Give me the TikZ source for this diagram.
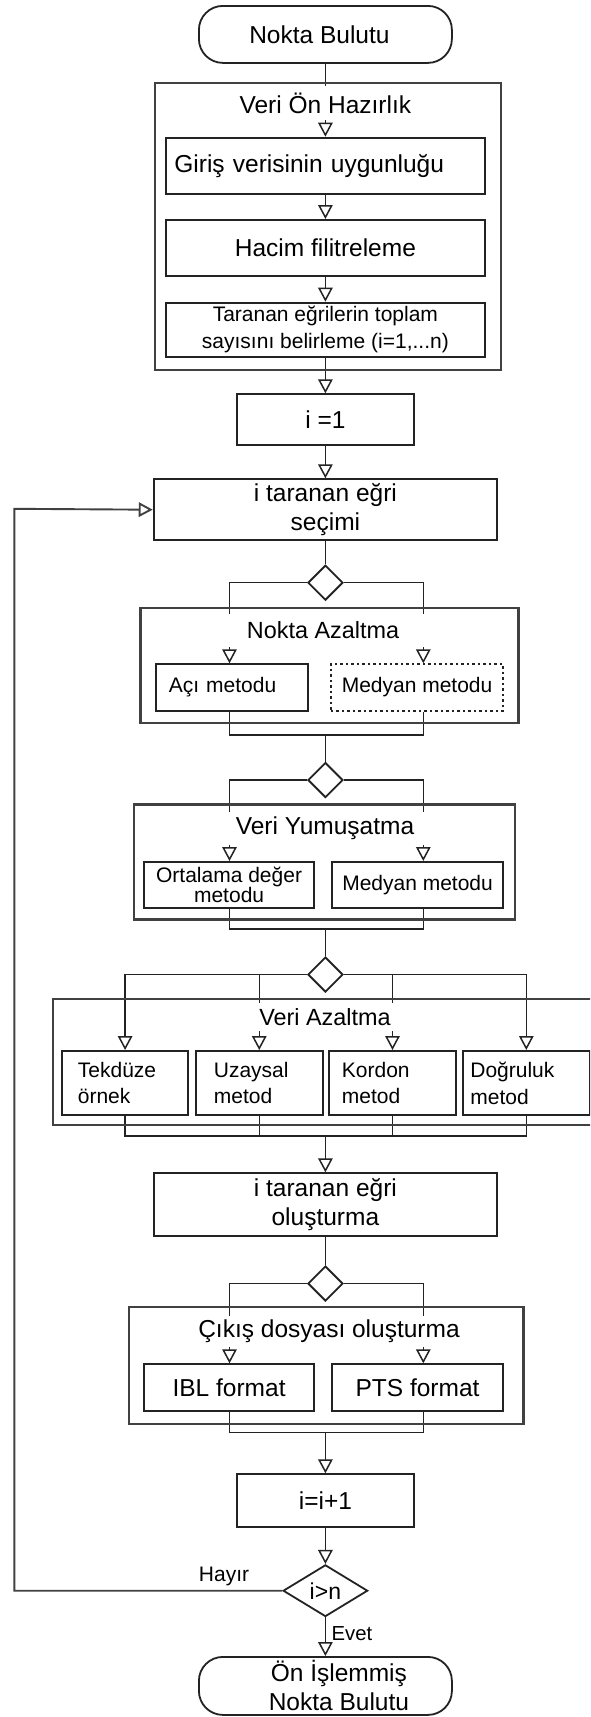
\documentclass[tikz,border=0pt]{standalone}
\usepackage{fontspec}
\setmainfont{Liberation Sans}
\usetikzlibrary{arrows.meta,shapes.geometric,calc}
\definecolor{lc}{RGB}{35,35,35}
\definecolor{cc}{RGB}{65,65,65}
\newcommand{\fontL}{\fontsize{24.5}{29}\selectfont}
\newcommand{\fontS}{\fontsize{21}{26.7}\selectfont}
\pgfdeclarelayer{bg}
\pgfsetlayers{bg,main}
\begin{document}
\begin{tikzpicture}[x=1pt,y=-1pt,
  conn/.style={draw=lc, line width=1.5pt},
  arr/.style={conn, -{Triangle[length=14pt,width=14.5pt,fill=white]}},
  box/.style={draw=lc, line width=1.8pt, fill=white, inner sep=0pt, anchor=north west, font=\fontL, align=center},
  sbox/.style={box, font=\fontS},
  cont/.style={draw=cc, line width=2.3pt, inner sep=0pt, anchor=north west},
  band/.style={fill=white, inner sep=0pt, font=\fontL},
  term/.style={box, anchor=north, rounded corners=24pt},
  dia/.style={diamond, draw=lc, line width=1.8pt, fill=white, inner sep=0pt, minimum width=35pt, minimum height=35pt}
]
\path[use as bounding box] (0,0) rectangle (590,1717);
\clip (0,0) rectangle (590,1717);

\coordinate (cL) at (229.5,0);
\coordinate (cR) at (423.3,0);
\coordinate (m1) at (325.4,735);
\coordinate (m2) at (325.4,929);
\coordinate (m3) at (325.4,1136);
\coordinate (m4) at (325.4,1432.7);
\coordinate (loopx) at (14.3,508.8);

% containers
\node[cont, minimum width=346pt, minimum height=286.5pt] (c1) at (153.5,82) {};
\node[cont, minimum width=378pt, minimum height=115pt] (c2) at (139.2,606.7) {};
\node[cont, minimum width=380.7pt, minimum height=115pt] (c3) at (132.8,803.3) {};
\node[cont, minimum width=560pt, minimum height=126pt] (c4) at (51.5,997.7) {};
\node[cont, minimum width=394.2pt, minimum height=116.7pt] (c5) at (128,1306) {};

% container titles
\node[band, minimum width=185pt, minimum height=34pt] (h1) at (325.4,103) {Veri Ön Hazırlık};
\node[band, minimum width=220pt, minimum height=33pt, font=\fontsize{23.4}{28}\selectfont] (h2) at (323,630) {Nokta Azaltma};
\node[band, minimum width=220pt, minimum height=33pt] (h3) at (325,828.5) {Veri Yumuşatma};
\node[band, minimum width=170pt, minimum height=28pt, font=\fontsize{23.4}{28}\selectfont] (h4) at (325,1017) {Veri Azaltma};
\node[band, minimum width=220pt, minimum height=31pt] (h5) at (329,1331.5) {Çıkış dosyası oluşturma};

% boxes
\node[term, minimum width=253pt, minimum height=57pt] (t1) at (325.4,5) {Nokta Bulutu\hspace*{12pt}};
\node[box, anchor=north, minimum width=318.6pt, minimum height=56pt, text width=302pt, align=left] (giris) at (325.4,136.7) {Giriş verisinin uygunluğu};
\node[box, anchor=north, minimum width=318.6pt, minimum height=56pt] (hacim) at (325.4,219) {Hacim filitreleme};
\node[sbox, anchor=north, minimum width=318.6pt, minimum height=54.3pt] (taranan) at (325.4,301.7) {Taranan eğrilerin toplam\\sayısını belirleme (i=1,...n)};
\node[box, anchor=north, minimum width=177.6pt, minimum height=50.7pt] (i1) at (325.4,393.3) {i =1};
\node[box, anchor=north, minimum width=343.5pt, minimum height=61pt, font=\fontsize{24.5}{28.3}\selectfont] (secim) at (325.4,478.3) {i taranan eğri\\seçimi};
\node[dia] (d1) at (325.4,582.7) {};
\node[sbox, minimum width=152.4pt, minimum height=46.7pt, text width=126.4pt, align=left] (aci) at (155,663.3) {Açı metodu};
\node[sbox, dash pattern=on 2.5pt off 3pt, minimum width=172.3pt, minimum height=46.7pt] (med1) at (330,663.3) {Medyan metodu};
\node[dia] (d2) at (325.4,780) {};
\node[sbox, minimum width=170.4pt, minimum height=45.7pt, font=\fontsize{21}{19}\selectfont] (ort) at (143,861) {Ortalama değer\\metodu};
\node[sbox, minimum width=171.3pt, minimum height=45.7pt] (med2) at (331,861) {Medyan metodu};
\node[dia] (d3) at (325.4,974.5) {};
\node[sbox, minimum width=126.4pt, minimum height=64.3pt, text width=94.4pt, align=left] (tek) at (61,1050) {Tekdüze\\örnek};
\node[sbox, minimum width=126.7pt, minimum height=64.3pt, text width=90.7pt, align=left] (uza) at (195,1050) {Uzaysal\\metod};
\node[sbox, minimum width=127.2pt, minimum height=64.3pt, text width=101.2pt, align=left] (kor) at (328,1050) {Kordon\\metod};
\node[sbox, minimum width=126.8pt, minimum height=64.3pt, text width=111.8pt, align=left] (dog) at (462,1050) {Doğruluk\\metod};
\node[box, anchor=north, minimum width=343.5pt, minimum height=62.7pt, font=\fontsize{24.5}{28.3}\selectfont] (olustur) at (325.4,1172.3) {i taranan eğri\\oluşturma};
\node[dia] (d4) at (325.4,1283.5) {};
\node[box, minimum width=170.4pt, minimum height=46.7pt] (ibl) at (143,1363.3) {IBL format};
\node[box, minimum width=171.3pt, minimum height=46.7pt] (pts) at (331,1363.3) {PTS format};
\node[box, anchor=north, minimum width=177.6pt, minimum height=52.7pt] (inc) at (325.4,1473.3) {i=i+1};
\node[dia, minimum width=84.6pt, minimum height=51.7pt, font=\fontsize{23}{27}\selectfont] (dec) at (325.4,1590.7) {i>n};
\node[term, minimum width=253pt, minimum height=58pt] (t2) at (325.4,1656) {\hspace*{27pt}Ön İşlemmiş\\\hspace*{27pt}Nokta Bulutu};

\node[font=\fontS, inner sep=0pt] (hayir) at (224,1576) {Hayır};
\node[font=\fontsize{20.3}{24}\selectfont, inner sep=0pt] (evet) at (352,1634) {Evet};

\begin{pgfonlayer}{bg}
\draw[arr] (t1.south) -- (giris.north);
\draw[arr] (giris.south) -- (hacim.north);
\draw[arr] (hacim.south) -- (taranan.north);
\draw[arr] (taranan.south) -- (i1.north);
\draw[arr] (i1.south) -- (secim.north);
\draw[conn] (secim.south) -- (d1.north);
\draw[arr] (d1.west) -| (cL |- aci.north);
\draw[arr] (d1.east) -| (cR |- med1.north);
\draw[conn] (cL |- aci.south) |- (m1) -| (cR |- med1.south);
\draw[conn] (m1) -- (d2.north);
\draw[arr] (d2.west) -| (cL |- ort.north);
\draw[arr] (d2.east) -| (cR |- med2.north);
\draw[conn] (cL |- ort.south) |- (m2) -| (cR |- med2.south);
\draw[conn] (m2) -- (d3.north);
\draw[arr] (d3.west) -| (tek.north);
\draw[arr] (d3.west) -| (uza.north);
\draw[arr] (d3.east) -| (kor.north);
\draw[arr] (d3.east) -| (dog.north);
\draw[conn] (tek.south) |- (m3) -| (dog.south);
\draw[conn] (uza.south) -- (uza.south |- m3);
\draw[conn] (kor.south) -- (kor.south |- m3);
\draw[arr] (m3) -- (olustur.north);
\draw[conn] (olustur.south) -- (d4.north);
\draw[arr] (d4.west) -| (cL |- ibl.north);
\draw[arr] (d4.east) -| (cR |- pts.north);
\draw[conn] (cL |- ibl.south) |- (m4) -| (cR |- pts.south);
\draw[arr] (m4) -- (inc.north);
\draw[arr] (inc.south) -- (dec.north);
\draw[arr] (dec.south) -- (t2.north);
\draw[arr, draw=cc, line width=1.9pt] (dec.west) -| (loopx) -- (secim.west);
\end{pgfonlayer}
\end{tikzpicture}
\end{document}
